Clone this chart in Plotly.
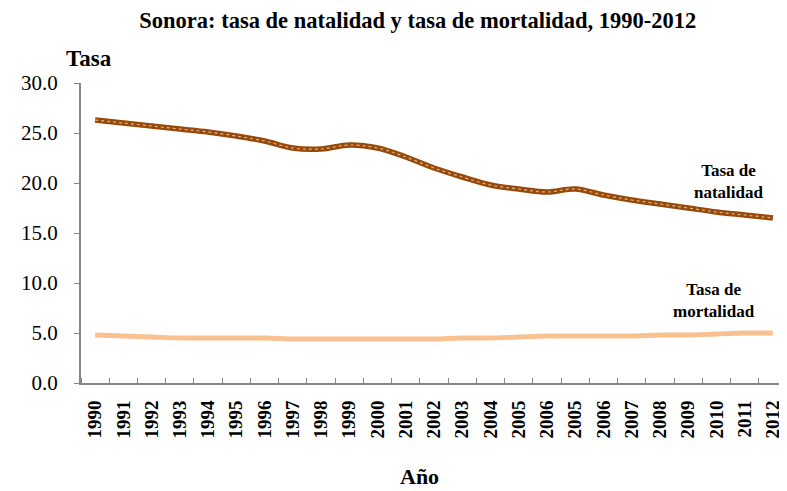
import plotly.graph_objects as go

years = ["1990", "1991", "1992", "1993", "1994", "1995", "1996", "1997", "1998", "1999",
         "2000", "2001", "2002", "2003", "2004", "2005", "2006", "2005", "2006", "2007",
         "2008", "2009", "2010", "2011", "2012"]
natalidad = [26.3, 26.0, 25.7, 25.4, 25.1, 24.7, 24.2, 23.5, 23.4, 23.8,
             23.5, 22.6, 21.5, 20.6, 19.8, 19.4, 19.1, 19.4, 18.8, 18.3,
             17.9, 17.5, 17.1, 16.8, 16.5]
mortalidad = [4.8, 4.7, 4.6, 4.5, 4.5, 4.5, 4.5, 4.4, 4.4, 4.4,
              4.4, 4.4, 4.4, 4.5, 4.5, 4.6, 4.7, 4.7, 4.7, 4.7,
              4.8, 4.8, 4.9, 5.0, 5.0]
y_ticks = [0, 5, 10, 15, 20, 25, 30]

xpos = list(range(len(years)))
SERIF = "Liberation Serif, Times New Roman, serif"

fig = go.Figure()
fig.add_trace(go.Scatter(x=xpos, y=mortalidad, mode="lines",
                         line=dict(color="#FAC090", width=5, shape="spline"),
                         showlegend=False, hoverinfo="skip"))
fig.add_trace(go.Scatter(x=xpos, y=natalidad, mode="lines",
                         line=dict(color="#984807", width=5.5, shape="spline"),
                         showlegend=False))
fig.add_trace(go.Scatter(x=xpos, y=natalidad, mode="lines",
                         line=dict(color="#D9B48F", width=1.2, shape="spline", dash="dot"),
                         showlegend=False, hoverinfo="skip"))

fig.update_layout(
    width=779, height=483,
    margin=dict(l=73, r=0, t=75, b=108),
    plot_bgcolor="white", paper_bgcolor="white",
    font=dict(family=SERIF, color="black"),
    title=dict(text="<b>Sonora: tasa de natalidad y tasa de mortalidad, 1990-2012</b>",
               x=0.526, xanchor="center", y=0.975, yanchor="middle",
               font=dict(size=22.5, family=SERIF)),
    xaxis=dict(
        range=[-0.5, len(years) - 0.5], automargin=False,
        tickmode="array", tickvals=xpos,
        ticktext=["<b>%s</b>" % y for y in years],
        tickangle=-90, ticks="", showgrid=False, zeroline=False,
        showline=True, linecolor="#868686", linewidth=2,
        tickfont=dict(size=19, family=SERIF),
        ticklabelstandoff=8,
        minor=dict(tickmode="linear", tick0=-0.5, dtick=1, ticks="inside",
                   ticklen=5, tickcolor="#868686", tickwidth=1, showgrid=False),
    ),
    yaxis=dict(
        range=[0, 30], automargin=False, tickmode="array", tickvals=y_ticks,
        tickformat=".1f", ticks="outside", ticklen=5, tickcolor="#868686",
        showgrid=False, zeroline=False,
        showline=True, linecolor="#868686", linewidth=2,
        tickfont=dict(size=21, family=SERIF),
        ticklabelstandoff=12,
    ),
    annotations=[
        dict(text="<b>Tasa</b>", xref="paper", yref="paper", x=-0.024, y=1.083,
             xanchor="left", yanchor="middle", showarrow=False,
             font=dict(size=23, family=SERIF)),
        dict(text="<b>Año</b>", xref="paper", yref="paper", x=0.48, y=-0.31,
             xanchor="center", yanchor="middle", showarrow=False,
             font=dict(size=22, family=SERIF)),
        dict(text="<b>Tasa de<br>natalidad</b>", xref="x", yref="y", x=22.45, y=20.2,
             xanchor="center", yanchor="middle", showarrow=False,
             font=dict(size=17, family=SERIF)),
        dict(text="<b>Tasa de<br>mortalidad</b>", xref="x", yref="y", x=21.9, y=8.3,
             xanchor="center", yanchor="middle", showarrow=False,
             font=dict(size=17, family=SERIF)),
    ],
)

fig.write_html("out.html")
